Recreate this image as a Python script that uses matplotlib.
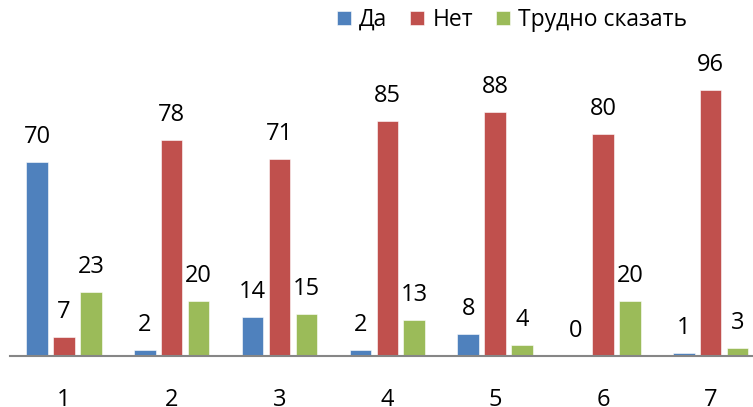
import numpy as np
import matplotlib
matplotlib.use('Agg')
import matplotlib.pyplot as plt

plt.rcParams['font.family'] = ['Open Sans', 'DejaVu Sans']

# данные
categories = ['1', '2', '3', '4', '5', '6', '7']
da = [70, 2, 14, 2, 8, 0, 1]
net = [7, 78, 71, 85, 88, 80, 96]
trudno = [23, 20, 15, 13, 4, 20, 3]
series_names = ['Да', 'Нет', 'Трудно сказать']
colors = ['#4F81BD', '#C0504D', '#9BBB59']

W, H = 753, 407
fig = plt.figure(figsize=(W / 100, H / 100), dpi=100)
# область графика (в пикселях): слева 10, база на 356 сверху
ax = fig.add_axes([10 / W, 51 / H, 754.6 / W, 277 / H])

x = np.arange(len(categories))
width = 0.2
step = 0.25

bars = []
for i, (vals, name, col) in enumerate(zip([da, net, trudno], series_names, colors)):
    b = ax.bar(x + (i - 1) * step, vals, width, color=col, label=name,
               edgecolor='white', linewidth=0.4)
    bars.append(b)
    for xi, v in zip(x + (i - 1) * step, vals):
        ax.annotate(str(v), (xi, v), xytext=(0, 13.7), textcoords='offset points',
                    ha='center', va='baseline', fontsize=17, color='black')

ax.set_xlim(-0.5, len(categories) - 0.5)
ax.set_ylim(0, 100)
ax.set_xticks(x)
ax.set_xticklabels(categories, fontsize=17)
ax.tick_params(axis='x', length=0, pad=23)
ax.set_yticks([])

for s in ['top', 'right', 'left']:
    ax.spines[s].set_visible(False)
ax.spines['bottom'].set_color('#868686')
ax.spines['bottom'].set_linewidth(1.5)

fig.legend(handles=bars, labels=series_names, loc='center',
           bbox_to_anchor=(512 / W, 1 - 20 / H), ncol=3, frameon=False,
           fontsize=16.5, handlelength=0.62, handleheight=0.62,
           handletextpad=0.35, columnspacing=1.0)

plt.savefig('out.png', dpi=100)
plt.close()
